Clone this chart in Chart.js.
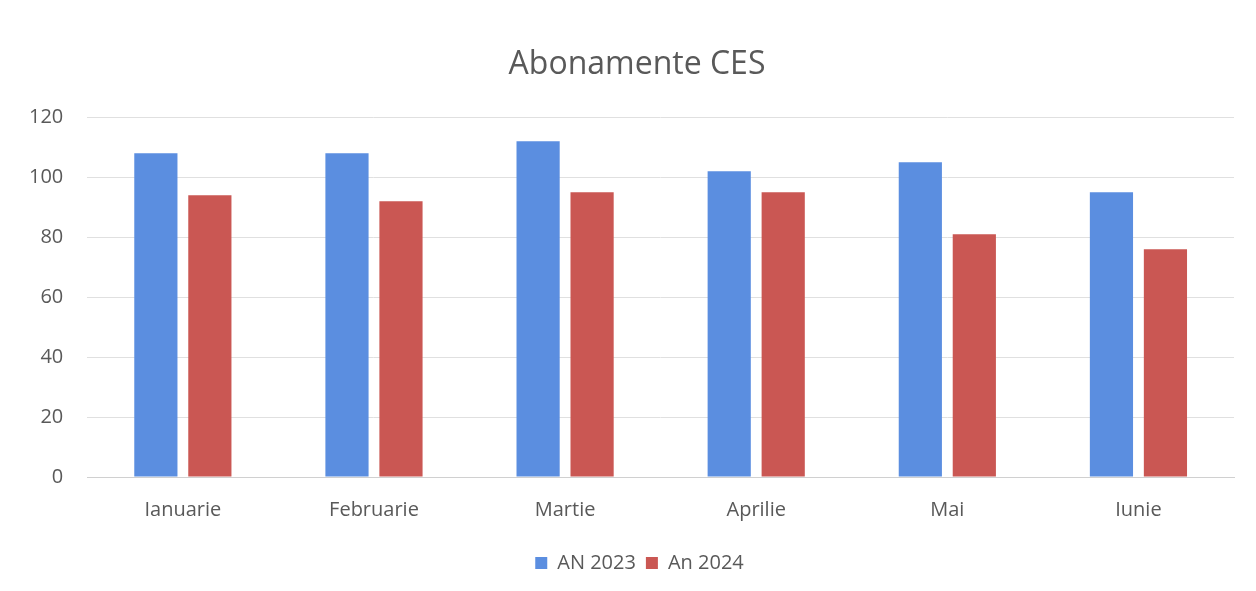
<!DOCTYPE html>
<html>
<head>
<meta charset="utf-8">
<script src="https://cdn.jsdelivr.net/npm/chart.js@4/dist/chart.umd.min.js"></script>
<style>
  html, body { margin: 0; padding: 0; background: #ffffff; }
  #wrap { width: 1256px; height: 591px; position: relative; }
</style>
</head>
<body>
<div id="wrap"><canvas id="c" width="1256" height="591"></canvas></div>
<script>
const categories = ["Ianuarie", "Februarie", "Martie", "Aprilie", "Mai", "Iunie"];
const an2023 = [108, 108, 112, 102, 105, 95];
const an2024 = [94, 92, 95, 95, 81, 76];
const seriesNames = ["AN 2023", "An 2024"];
const yTicks = [0, 20, 40, 60, 80, 100, 120];

const fontFam = "'Open Sans', 'Liberation Sans', sans-serif";
const textColor = "#595959";

// shift the title and legend horizontally to match the reference centring
const centreShift = {
  id: 'centreShift',
  afterLayout(chart) {
    if (chart.titleBlock) { chart.titleBlock.left += 35; }
    if (chart.legend) { chart.legend.left += 20; chart.legend.right += 20; }
  }
};

new Chart(document.getElementById('c'), {
  type: 'bar',
  data: {
    labels: categories,
    datasets: [
      { label: seriesNames[0], data: an2023, backgroundColor: '#5b8ee0', borderWidth: 0,
        categoryPercentage: 0.565, barPercentage: 0.8 },
      { label: seriesNames[1], data: an2024, backgroundColor: '#ca5753', borderWidth: 0,
        categoryPercentage: 0.565, barPercentage: 0.8 }
    ]
  },
  plugins: [centreShift],
  options: {
    responsive: false,
    animation: false,
    devicePixelRatio: 1,
    layout: { padding: { left: 5, right: 22, top: 46, bottom: 8 } },
    plugins: {
      title: {
        display: true,
        text: 'Abonamente CES',
        color: textColor,
        font: { family: fontFam, size: 32, weight: 'normal' },
        padding: { top: 0, bottom: 33 }
      },
      legend: {
        position: 'bottom',
        labels: {
          color: textColor,
          font: { family: fontFam, size: 20 },
          boxWidth: 12, boxHeight: 12,
          padding: 10
        }
      },
      tooltip: { enabled: false }
    },
    scales: {
      x: {
        grid: { display: false, drawTicks: false },
        border: { display: true, color: '#d0d0d0' },
        ticks: { color: textColor, font: { family: fontFam, size: 20 }, padding: 21 }
      },
      y: {
        min: 0, max: 120,
        afterBuildTicks: (axis) => { axis.ticks = yTicks.map(v => ({ value: v })); },
        grid: { color: '#e0e0e0', drawTicks: false },
        border: { display: false },
        ticks: { color: textColor, font: { family: fontFam, size: 20 }, padding: 24 }
      }
    }
  }
});
</script>
</body>
</html>
